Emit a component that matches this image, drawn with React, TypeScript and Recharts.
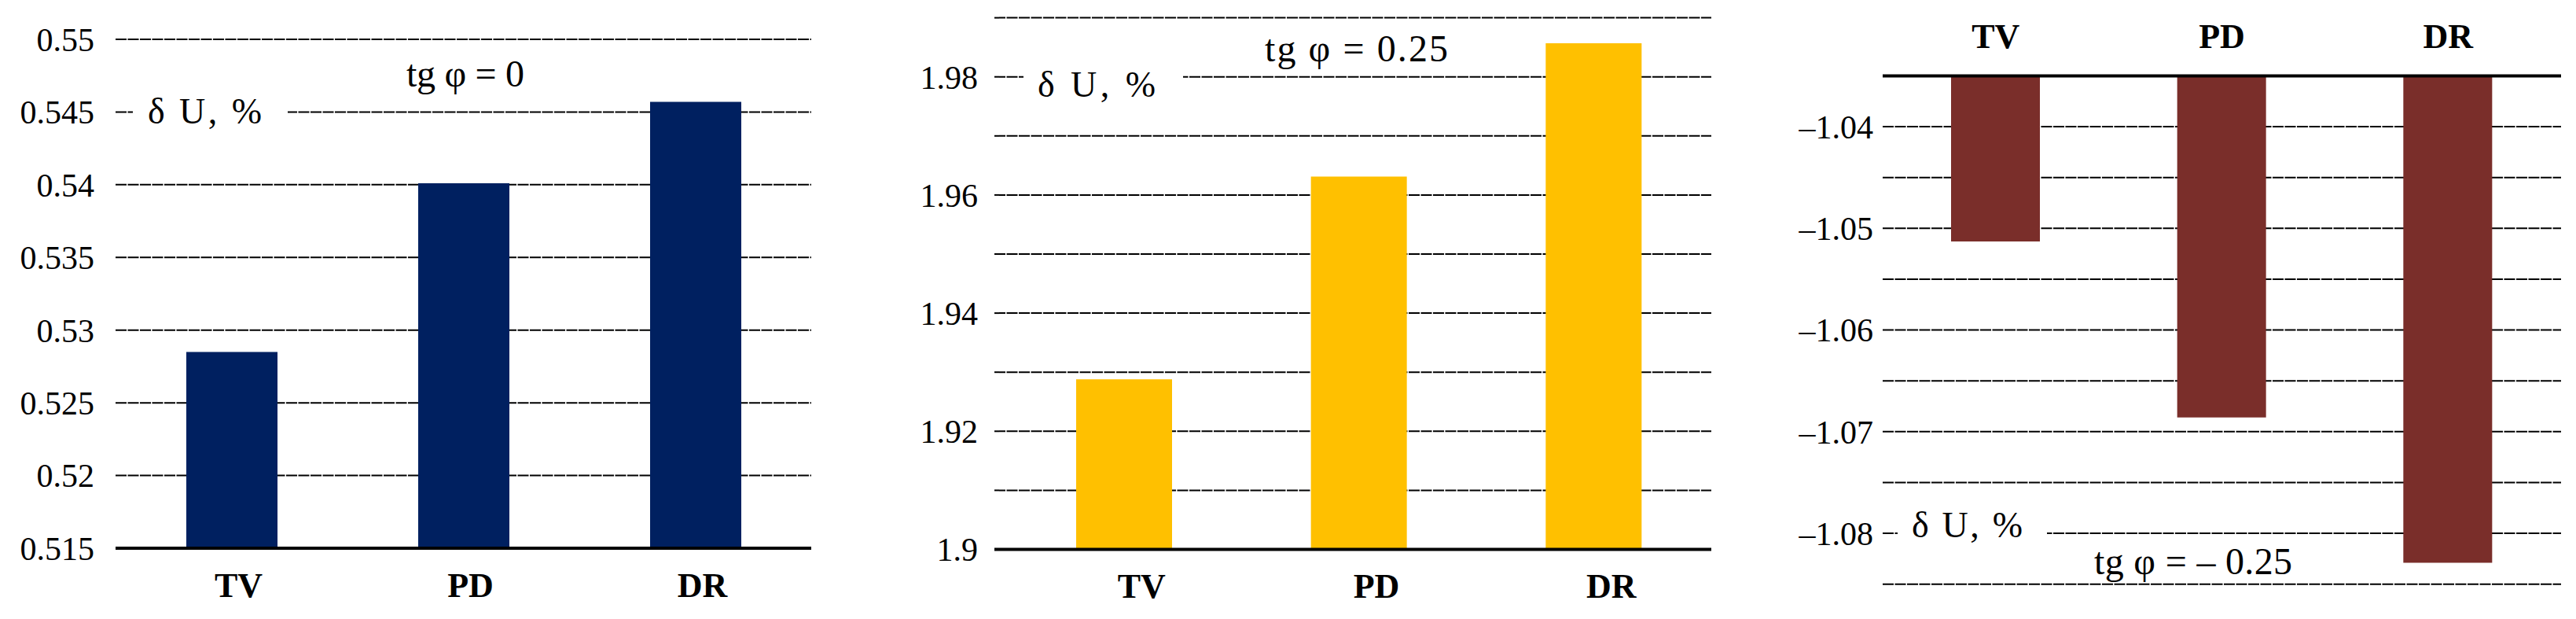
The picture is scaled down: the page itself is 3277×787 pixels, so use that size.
import { BarChart, Bar, XAxis, YAxis, CartesianGrid } from 'recharts'

const categories = ['TV', 'PD', 'DR']

// dU, % at tg(phi) = 0, 0.25, -0.25
const valuesTg0 = [0.5285, 0.5401, 0.5457]
const valuesTg025 = [1.9288, 1.9631, 1.9857]
const valuesTgNeg025 = [-1.0513, -1.0686, -1.0829]

const ticksTg0 = [0.515, 0.52, 0.525, 0.53, 0.535, 0.54, 0.545, 0.55]
const ticksTg025 = [1.9, 1.91, 1.92, 1.93, 1.94, 1.95, 1.96, 1.97, 1.98, 1.99]
const ticksTgNeg025 = [-1.085, -1.08, -1.075, -1.07, -1.065, -1.06, -1.055, -1.05, -1.045, -1.04, -1.035]

const serif = "'Liberation Serif', 'DejaVu Serif', serif"
const gridStyle = { stroke: '#000', strokeWidth: 2, strokeDasharray: '14 1.5' }
const axisLineStyle = { stroke: '#000', strokeWidth: 4 }
const yTick = { fontSize: 42, fontFamily: serif, fill: '#000', style: { fontFamily: serif } }
const xTick = { fontSize: 44, fontFamily: serif, fontWeight: 700, fill: '#000', style: { fontFamily: serif, fontWeight: 700 } }

const toRows = (values: number[]) => categories.map((c, i) => ({ name: c, value: values[i] }))

const fmtEvenHundredth = (v: number) => (Math.round(v * 100) % 2 === 0 ? String(Number(v.toFixed(2))) : '')
const fmtNegative = (v: number) => (Math.round(v * 1000) % 10 === 0 ? '\u2013' + Math.abs(v).toFixed(2) : '')

function ChartTg0() {
  return (
    <BarChart width={1100} height={787} data={toRows(valuesTg0)} margin={{ top: 50, right: 68, left: 27, bottom: 10 }}>
      <CartesianGrid vertical={false} {...gridStyle} />
      <XAxis
        dataKey="name"
        height={80}
        interval={0}
        tickLine={false}
        tickSize={0}
        tickMargin={31}
        axisLine={axisLineStyle}
        tick={{ ...xTick, dx: 9 }}
      />
      <YAxis
        type="number"
        domain={[0.515, 0.55]}
        ticks={ticksTg0}
        interval={0}
        width={120}
        axisLine={false}
        tickLine={false}
        tickSize={0}
        tickMargin={27}
        tick={yTick}
      />
      <Bar dataKey="value" fill="#002060" barSize={116} isAnimationActive={false} />
    </BarChart>
  )
}

function ChartTg025() {
  return (
    <BarChart width={1100} height={787} data={toRows(valuesTg025)} margin={{ top: 22.6, right: 23, left: 45, bottom: 8.5 }}>
      <CartesianGrid vertical={false} {...gridStyle} />
      <XAxis
        dataKey="name"
        height={80}
        interval={0}
        padding={{ left: 16, right: 0 }}
        tickLine={false}
        tickSize={0}
        tickMargin={30}
        axisLine={axisLineStyle}
        tick={{ ...xTick, dx: 22 }}
      />
      <YAxis
        type="number"
        domain={[1.9, 1.99]}
        ticks={ticksTg025}
        interval={0}
        width={120}
        axisLine={false}
        tickLine={false}
        tickSize={0}
        tickMargin={21}
        tick={yTick}
        tickFormatter={fmtEvenHundredth}
      />
      <Bar dataKey="value" fill="#FFC000" barSize={122} isAnimationActive={false} />
    </BarChart>
  )
}

function ChartTgNeg025() {
  return (
    <BarChart width={1077} height={787} data={toRows(valuesTgNeg025)} margin={{ top: 16.4, right: 19, left: 75, bottom: 44.3 }}>
      <CartesianGrid vertical={false} {...gridStyle} />
      <XAxis
        dataKey="name"
        orientation="top"
        height={80}
        interval={0}
        tickLine={false}
        tickSize={0}
        tickMargin={35}
        axisLine={axisLineStyle}
        tick={xTick}
      />
      <YAxis
        type="number"
        domain={[-1.085, -1.035]}
        ticks={ticksTgNeg025}
        interval={0}
        width={120}
        axisLine={false}
        tickLine={false}
        tickSize={0}
        tickMargin={12}
        tick={yTick}
        tickFormatter={fmtNegative}
      />
      <Bar dataKey="value" fill="#7A2E2A" barSize={113} isAnimationActive={false} />
    </BarChart>
  )
}

const noteFont = { fontFamily: serif, fill: '#000', style: { fontFamily: serif } }

export default function App() {
  return (
    <div style={{ position: 'absolute', left: 0, top: 0, width: 3277, height: 787, background: '#fff', fontFamily: serif }}>
      <div style={{ position: 'absolute', left: 0, top: 0 }}>
        <ChartTg0 />
      </div>
      <div style={{ position: 'absolute', left: 1100, top: 0 }}>
        <ChartTg025 />
      </div>
      <div style={{ position: 'absolute', left: 2200, top: 0 }}>
        <ChartTgNeg025 />
      </div>
      <svg width={3277} height={787} style={{ position: 'absolute', left: 0, top: 0, pointerEvents: 'none' }}>
        <rect x={169} y={126} width={197} height={44} fill="#fff" />
        <text x={188} y={157} fontSize={46} textLength={145} lengthAdjust="spacing" {...noteFont}>δ U, %</text>
        <text x={517} y={110} fontSize={48} textLength={150} lengthAdjust="spacing" {...noteFont}>tg φ = 0</text>

        <rect x={1302} y={86} width={203} height={44} fill="#fff" />
        <text x={1320} y={123} fontSize={46} textLength={150} lengthAdjust="spacing" {...noteFont}>δ U, %</text>
        <text x={1609} y={78} fontSize={48} textLength={233} lengthAdjust="spacing" {...noteFont}>tg φ = 0.25</text>

        <rect x={2414} y={650} width={190} height={44} fill="#fff" />
        <text x={2432} y={683} fontSize={46} textLength={141} lengthAdjust="spacing" {...noteFont}>δ U, %</text>
        <text x={2664} y={730} fontSize={48} textLength={252} lengthAdjust="spacing" {...noteFont}>tg φ = – 0.25</text>
      </svg>
    </div>
  )
}
